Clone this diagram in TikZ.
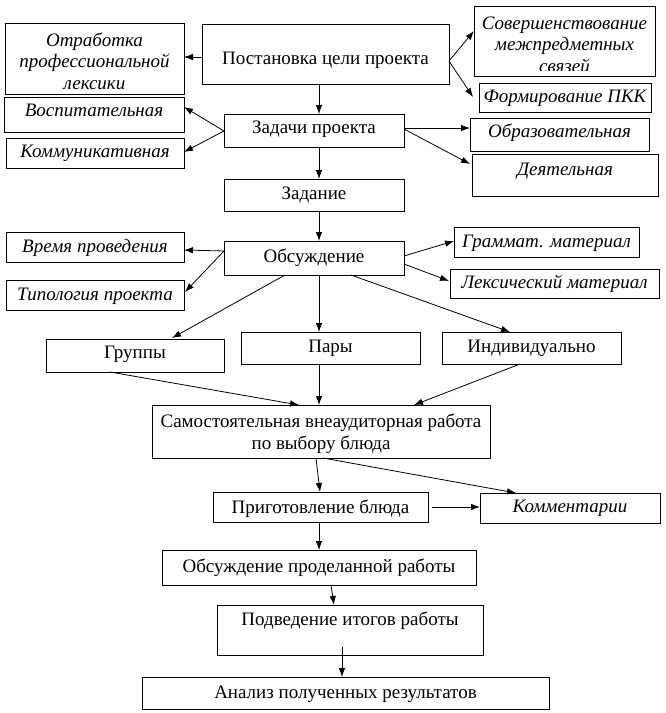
\documentclass[tikz,border=0pt]{standalone}
\usepackage{fontspec}
\setmainfont{Liberation Serif}
\usetikzlibrary{arrows.meta,fit,calc}
\begin{document}
\begin{tikzpicture}[x=1pt,y=-1pt,
  box/.style={draw,line width=0.8pt,inner sep=0pt,outer sep=0pt},
  ml/.style={inner sep=0pt,align=center,font=\fontsize{19}{21.5}\selectfont},
  mli/.style={ml,font=\fontsize{19}{21.5}\selectfont\itshape},
  txt/.style={ml,text height=13pt,text depth=4pt},
  itx/.style={mli,text height=13pt,text depth=4pt},
  arr/.style={line width=0.8pt,-{Latex[length=9pt,width=6.5pt]}}]
\useasboundingbox (0,0) rectangle (666,713);
\coordinate (spine) at (319,0);
% boxes
\node[box,fit={(202,24) (449,84)}] (goal) {};
\node[box,fit={(5,23) (184,94)}] (otr) {};
\node[box,fit={(4,97) (184,132)}] (vosp) {};
\node[box,fit={(6,138) (184,168)}] (komm) {};
\node[box,fit={(224,114) (404,147)}] (tasks) {};
\node[box,fit={(474,6) (655,76)}] (sov) {};
\node[box,fit={(479,83) (651,112)}] (pkk) {};
\node[box,fit={(470,118) (649,151)}] (obr) {};
\node[box,fit={(472,154) (658,196)}] (deyat) {};
\node[box,fit={(224,179) (404,211)}] (zad) {};
\node[box,fit={(224,241) (404,275)}] (obs) {};
\node[box,fit={(6,232) (184,262)}] (vrem) {};
\node[box,fit={(6,280) (184,310)}] (tip) {};
\node[box,fit={(454,227) (639,257)}] (gram) {};
\node[box,fit={(450,269) (659,298)}] (lex) {};
\node[box,fit={(46,339) (224,372)}] (gr) {};
\node[box,fit={(241,332) (420,364)}] (pary) {};
\node[box,fit={(442,332) (621,364)}] (ind) {};
\node[box,fit={(152,405) (490,458)}] (sam) {};
\node[box,fit={(213,492) (428,522)}] (prig) {};
\node[box,fit={(480,493) (660,523)}] (komm2) {};
\node[box,fit={(162,550) (476,585)}] (obsp) {};
\node[box,fit={(217,605) (483,655)}] (podv) {};
\node[box,fit={(142,677) (549,709)}] (anal) {};
% texts
\node[txt] (tgoal) at ($(goal.center)+(0,6)$) {Постановка цели проекта};
\node[mli] (totr) at ($(otr.center)+(0,2.5)$) {Отработка\\профессиональной\\лексики};
\node[itx] (tvosp) at ($(vosp.center)+(0,-2.5)$) {Воспитательная};
\node[itx] (tkomm) at (komm.center) {Коммуникативная};
\node[txt] (ttasks) at ($(tasks.center)+(0,-1.5)$) {Задачи проекта};
\begin{scope}
\clip (474,6) rectangle (655,70.5);
\node[mli] (tsov) at ($(sov.center)+(0,3.5)$) {Совершенствование\\межпредметных\\связей};
\end{scope}
\node[itx] (tpkk) at (pkk.center) {Формирование ПКК};
\node[itx] (tobr) at ($(obr.center)+(0,-1.5)$) {Образовательная};
\node[itx] (tdeyat) at ($(deyat.center)+(0,-4)$) {Деятельная};
\node[txt] (tzad) at (zad.center) {Задание};
\node[txt] (tobs) at (obs.center) {Обсуждение};
\node[itx] (tvrem) at ($(vrem.center)+(0,1)$) {Время проведения};
\node[itx] (ttip) at ($(tip.center)+(0,1)$) {Типология проекта};
\node[itx] (tgram) at ($(gram.center)+(0,1)$) {Граммат. материал};
\node[itx] (tlex) at (lex.center) {Лексический материал};
\node[txt] (tgr) at ($(gr.center)+(0,-1.5)$) {Группы};
\node[txt] (tpary) at (pary.center) {Пары};
\node[txt] (tind) at (ind.center) {Индивидуально};
\node[ml] (tsam) at ($(sam.center)+(0,2)$) {Самостоятельная внеаудиторная работа\\по выбору блюда};
\node[txt] (tprig) at ($(prig.center)+(0,2)$) {Приготовление блюда};
\node[itx] (tkomm2) at (komm2.center) {Комментарии};
\node[txt] (tobsp) at (obsp.center) {Обсуждение проделанной работы};
\node[txt] (tpodv) at ($(podv.center)+(0,-9)$) {Подведение итогов работы};
\node[txt] (tanal) at ($(anal.center)+(0,1)$) {Анализ полученных результатов};
% connectors
\draw[arr] ($(goal.north west)+(0,33)$) -- ($(otr.north east)+(0,34)$);
\draw[arr] (goal.south -| spine) -- (tasks.north -| spine);
\draw[arr] ($(tasks.north west)+(0,17)$) -- ($(vosp.north east)+(0,10)$);
\draw[arr] ($(tasks.north west)+(0,17)$) -- ($(komm.north east)+(0,14)$);
\draw[arr] ($(goal.north east)+(0,37)$) -- ($(sov.north west)+(0,25)$);
\draw[arr] ($(goal.north east)+(0,37)$) -- ($(pkk.north west)+(-6,14)$);
\draw[arr] ($(tasks.north east)+(0,14)$) -- ($(obr.north west)+(0,10)$);
\draw[arr] ($(tasks.north east)+(0,15)$) -- ($(deyat.north west)+(-2,10)$);
\draw[arr] (tasks.south -| spine) -- (zad.north -| spine);
\draw[arr] (zad.south -| spine) -- (obs.north -| spine);
\draw[arr] ($(obs.north west)+(0,10)$) -- ($(vrem.north east)+(0,18)$);
\draw[arr] ($(obs.north west)+(0,10)$) -- ($(tip.north east)+(1,12)$);
\draw[arr] ($(obs.north east)+(0,15)$) -- ($(gram.north west)+(0,14)$);
\draw[arr] ($(obs.north east)+(0,23)$) -- ($(lex.north west)+(-1,12)$);
\draw[arr] ($(obs.south west)+(61,0)$) -- ($(gr.north west)+(126,-1)$);
\draw[arr] (obs.south -| spine) -- (pary.north -| spine);
\draw[arr] ($(obs.south west)+(127,0)$) -- ($(ind.north west)+(68,0)$);
\draw[arr] ($(gr.south west)+(64,0)$) -- ($(sam.north west)+(147,0)$);
\draw[arr] (pary.south -| spine) -- (sam.north -| spine);
\draw[arr] ($(ind.south west)+(78,0)$) -- ($(sam.north west)+(262,0)$);
\draw[arr] ($(sam.south west)+(164,0)$) -- ($(prig.north west)+(107,0)$);
\draw[arr] ($(sam.south west)+(171,0)$) -- ($(komm2.north west)+(36,0)$);
\draw[arr] ($(prig.north east)+(4,15)$) -- ($(komm2.north west)+(0,14)$);
\draw[arr] (prig.south -| spine) -- (obsp.north -| spine);
\draw[arr] ($(obsp.south west)+(169,0)$) -- ($(podv.north west)+(117,0)$);
\draw[arr] ($(podv.south west)+(125,-8)$) -- ($(anal.north west)+(200,0)$);
\end{tikzpicture}
\end{document}
